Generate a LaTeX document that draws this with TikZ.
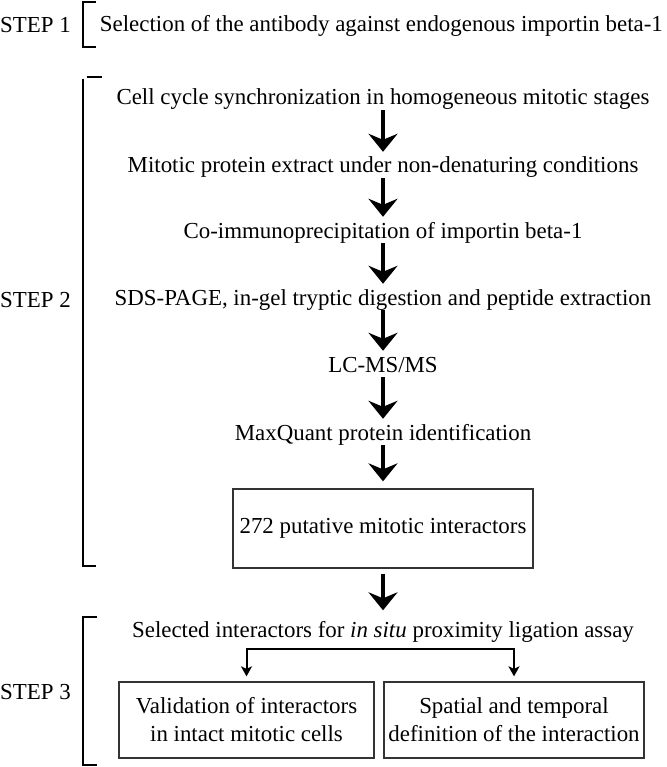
\documentclass[tikz,border=0pt]{standalone}
\usepackage{fontspec}
\setmainfont{Liberation Serif}
\usetikzlibrary{arrows.meta}

\begin{document}
\begin{tikzpicture}[x=1pt,y=-1pt,
  every node/.style={font=\fontsize{22.9}{28}\selectfont},
  stage/.style={anchor=base,inner sep=0pt,text height=15pt,text depth=5pt},
  resbox/.style={draw=black!80,line width=1.3pt,align=center,inner sep=0pt},
  bigarrow/.style={line width=4.5pt,-{Stealth[length=18pt,width=29pt,inset=6pt]},
                   shorten <=0pt,shorten >=6pt},
  splitarrow/.style={line width=2pt,{Stealth[length=10pt,width=11pt,inset=2.5pt]}-{Stealth[length=10pt,width=11pt,inset=2.5pt]},
                     shorten <=5pt,shorten >=5pt},
  bracket/.style={line width=1.8pt}]
\useasboundingbox (0,0) rectangle (666,767);

% step labels and brackets
\node (st1) at (35.5,25)  {STEP 1};
\node (st2) at (35.5,300) {STEP 2};
\node (st3) at (35.5,692) {STEP 3};
\draw[bracket] (96,2) -| (83,47) -- (96,47);
\draw[bracket] (87,77) -- (102,77);
\draw[bracket] (83,79) |- (96,566);
\draw[bracket] (97,617) -| (83,765) -- (97,765);

% step 1
\node[stage,anchor=base east] (ab) at (663,32) {Selection of the antibody against endogenous importin beta-1};

% step 2
\node[stage] (cyc)  at (383,105) {Cell cycle synchronization in homogeneous mitotic stages};
\node[stage] (ext)  at (383,173) {Mitotic protein extract under non-denaturing conditions};
\node[stage] (coip) at (383,238) {Co-immunoprecipitation of importin beta-1};
\node[stage] (sds)  at (383,305) {SDS-PAGE, in-gel tryptic digestion and peptide extraction};
\node[stage] (lcms) at (383,372) {LC-MS/MS};
\node[stage] (mq)   at (383,440) {MaxQuant protein identification};
\node[resbox,minimum width=300pt,minimum height=79pt] (put) at (383,528.5) {272 putative mitotic interactors};

\draw[bigarrow] (cyc)  -- (ext);
\draw[bigarrow] (ext)  -- (coip);
\draw[bigarrow] (coip) -- (sds);
\draw[bigarrow] (sds)  -- (lcms);
\draw[bigarrow] (lcms) -- (mq);
\draw[bigarrow,shorten >=7pt] (mq) -- (put);

% step 3
\node[stage] (sel) at (383,637.5) {Selected interactors for \textit{in situ} proximity ligation assay};
\draw[bigarrow,shorten <=5pt,shorten >=12pt] (put) -- (sel);
\node[resbox,minimum width=255pt,minimum height=76pt] (val) at (246.5,720)
  {Validation of interactors\\in intact mitotic cells};
\node[resbox,minimum width=260pt,minimum height=76pt] (spa) at (514,720)
  {Spatial and temporal\\definition of the interaction};
\draw[splitarrow] (val.north) -- ++(0,-32) -| (spa.north);
\end{tikzpicture}
\end{document}
